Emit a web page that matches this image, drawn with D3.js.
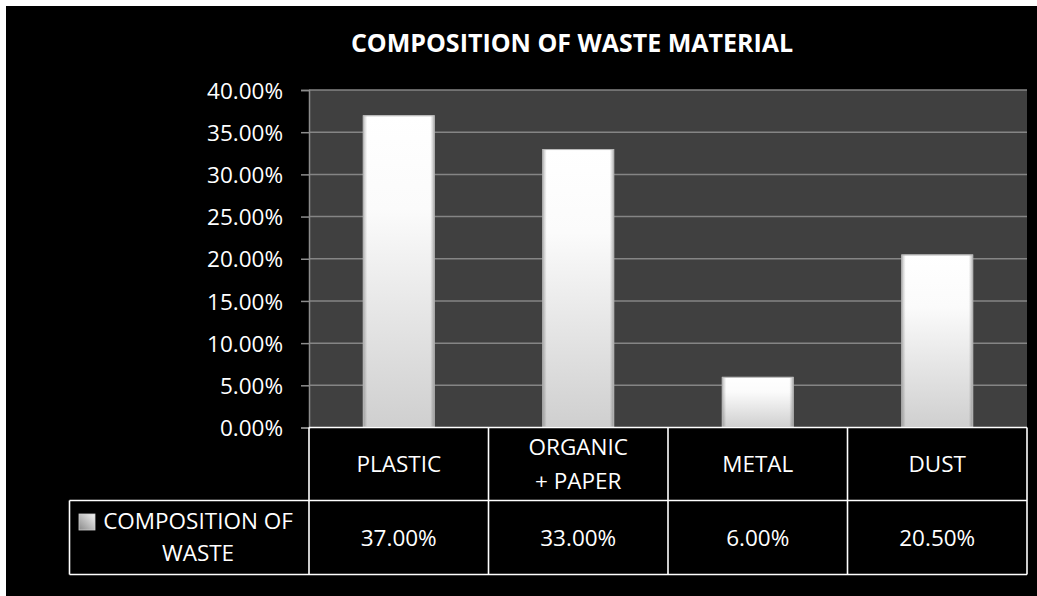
<!DOCTYPE html>
<html>
<head>
<meta charset="utf-8">
<script src="https://cdn.jsdelivr.net/npm/d3@7"></script>
<style>
  html, body { margin: 0; padding: 0; background: #ffffff; }
  svg { display: block; }
  text { font-family: "Open Sans", "DejaVu Sans", sans-serif; fill: #ffffff; }
</style>
</head>
<body>
<svg id="chart" width="1037" height="596"></svg>
<script>
// Waste composition by category (share of total)
const categories = ["PLASTIC", "ORGANIC\n+ PAPER", "METAL", "DUST"];
const values = [0.37, 0.33, 0.06, 0.205];
const valueLabels = ["37.00%", "33.00%", "6.00%", "20.50%"];
const yTicks = [0, 0.05, 0.10, 0.15, 0.20, 0.25, 0.30, 0.35, 0.40];
const seriesName = ["COMPOSITION OF", "WASTE"];
const title = "COMPOSITION OF WASTE MATERIAL";

const W = 1037, H = 596;
const plot = { left: 309, right: 1027, top: 90, bottom: 427.5 };
const table = { left: 69.5, right: 1027, top: 427.5, mid: 500.5, bottom: 574.5 };
const FS = "22.5px";

const svg = d3.select("#chart");

// page frame
svg.append("rect").attr("x", 0).attr("y", 0).attr("width", W).attr("height", H).attr("fill", "#ffffff");
svg.append("rect").attr("x", 6).attr("y", 6).attr("width", W - 6).attr("height", H - 6).attr("fill", "#000000");

const defs = svg.append("defs");
const vg = defs.append("linearGradient").attr("id", "barV").attr("x1", 0).attr("y1", 0).attr("x2", 0).attr("y2", 1);
vg.append("stop").attr("offset", "0%").attr("stop-color", "#ffffff");
vg.append("stop").attr("offset", "30%").attr("stop-color", "#fbfbfb");
vg.append("stop").attr("offset", "100%").attr("stop-color", "#cfcfcf");
const hg = defs.append("linearGradient").attr("id", "barH").attr("x1", 0).attr("y1", 0).attr("x2", 1).attr("y2", 0);
hg.append("stop").attr("offset", "0%").attr("stop-color", "#000").attr("stop-opacity", 0.28);
hg.append("stop").attr("offset", "6%").attr("stop-color", "#000").attr("stop-opacity", 0.0);
hg.append("stop").attr("offset", "94%").attr("stop-color", "#000").attr("stop-opacity", 0.0);
hg.append("stop").attr("offset", "100%").attr("stop-color", "#000").attr("stop-opacity", 0.3);
const lg = defs.append("linearGradient").attr("id", "legendIcon").attr("x1", 0).attr("y1", 1).attr("x2", 1).attr("y2", 0);
lg.append("stop").attr("offset", "0%").attr("stop-color", "#8a8a8a");
lg.append("stop").attr("offset", "100%").attr("stop-color", "#f4f4f4");

// scales
const x = d3.scaleBand().domain(categories).range([plot.left, plot.right]).paddingInner(0.6).paddingOuter(0.3);
const y = d3.scaleLinear().domain([0, 0.4]).range([plot.bottom, plot.top]);

// plot background
svg.append("rect").attr("x", plot.left).attr("y", plot.top)
  .attr("width", plot.right - plot.left).attr("height", plot.bottom - plot.top)
  .attr("fill", "#404040");

// horizontal gridlines
svg.append("g").selectAll("line").data(yTicks.filter(d => d > 0)).join("line")
  .attr("x1", plot.left).attr("x2", plot.right)
  .attr("y1", d => y(d)).attr("y2", d => y(d))
  .attr("stroke", "#858585").attr("stroke-width", 1.5);

// y axis
const yAxis = d3.axisLeft(y).tickValues(yTicks).tickFormat(d3.format(".2%")).tickSize(8).tickPadding(18);
const gy = svg.append("g").attr("transform", `translate(${plot.left},0)`).call(yAxis);
gy.select(".domain").attr("stroke", "#8c8c8c").attr("stroke-width", 1.5);
gy.selectAll(".tick line").attr("stroke", "#8c8c8c").attr("stroke-width", 1.5);
gy.selectAll(".tick text").attr("fill", "#ffffff").style("font-size", FS)
  .style("font-family", "'Open Sans', sans-serif").attr("dy", "0.36em");

// bars
const bars = svg.append("g");
bars.selectAll("rect.bar").data(values).join("rect").attr("class", "bar")
  .attr("x", (d, i) => x(categories[i])).attr("width", x.bandwidth())
  .attr("y", d => y(d)).attr("height", d => y(0) - y(d))
  .attr("fill", "url(#barV)");
bars.selectAll("rect.shade").data(values).join("rect").attr("class", "shade")
  .attr("x", (d, i) => x(categories[i])).attr("width", x.bandwidth())
  .attr("y", d => y(d)).attr("height", d => y(0) - y(d))
  .attr("fill", "url(#barH)");
bars.selectAll("rect.rim").data(values).join("rect").attr("class", "rim")
  .attr("x", (d, i) => x(categories[i]) + 0.5).attr("width", x.bandwidth() - 1)
  .attr("y", d => y(d) + 0.5).attr("height", d => y(0) - y(d) - 1)
  .attr("fill", "none").attr("stroke", "#b5b5b5").attr("stroke-width", 1);

// title
svg.append("text").attr("x", 572).attr("y", 52)
  .attr("text-anchor", "middle").style("font-weight", "bold").style("font-size", "25px")
  .text(title);

// data table
const tg = svg.append("g");
function hline(x1, x2, yy) {
  tg.append("line").attr("x1", x1).attr("x2", x2).attr("y1", yy).attr("y2", yy)
    .attr("stroke", "#ffffff").attr("stroke-width", 1.6);
}
function vline(xx, y1, y2) {
  tg.append("line").attr("x1", xx).attr("x2", xx).attr("y1", y1).attr("y2", y2)
    .attr("stroke", "#ffffff").attr("stroke-width", 1.6);
}
hline(plot.left, table.right, table.top);
hline(table.left, table.right, table.mid);
hline(table.left, table.right, table.bottom);
vline(table.left, table.mid, table.bottom);
const colEdges = categories.map(c => x(c) - x.step() * x.paddingInner() / 2).concat([table.right]);
colEdges[0] = plot.left;
colEdges.forEach(e => vline(e, table.top, table.bottom));

// category headers
const catText = tg.selectAll("text.cat").data(categories).join("text").attr("class", "cat")
  .attr("text-anchor", "middle").style("font-size", FS);
catText.each(function (c) {
  const lines = c.split("\n");
  const cx = x(c) + x.bandwidth() / 2;
  const cy = (table.top + table.mid) / 2;
  const lh = 34.5;
  d3.select(this).selectAll("tspan").data(lines).join("tspan")
    .attr("x", cx)
    .attr("y", (d, i) => cy + (i - (lines.length - 1) / 2) * lh)
    .attr("dy", "0.36em")
    .text(d => d);
});

// value row
tg.selectAll("text.val").data(valueLabels).join("text").attr("class", "val")
  .attr("text-anchor", "middle").style("font-size", FS)
  .attr("x", (d, i) => x(categories[i]) + x.bandwidth() / 2)
  .attr("y", (table.mid + table.bottom) / 2).attr("dy", "0.36em")
  .text(d => d);

// series legend cell
tg.append("rect").attr("x", 79).attr("y", 514).attr("width", 16).attr("height", 16)
  .attr("fill", "url(#legendIcon)").attr("stroke", "#d0d0d0").attr("stroke-width", 0.8);
tg.append("text").attr("text-anchor", "middle").style("font-size", FS)
  .selectAll("tspan").data(seriesName).join("tspan")
  .attr("x", 198)
  .attr("y", (d, i) => 521 + i * 32).attr("dy", "0.36em")
  .text(d => d);
</script>
</body>
</html>
